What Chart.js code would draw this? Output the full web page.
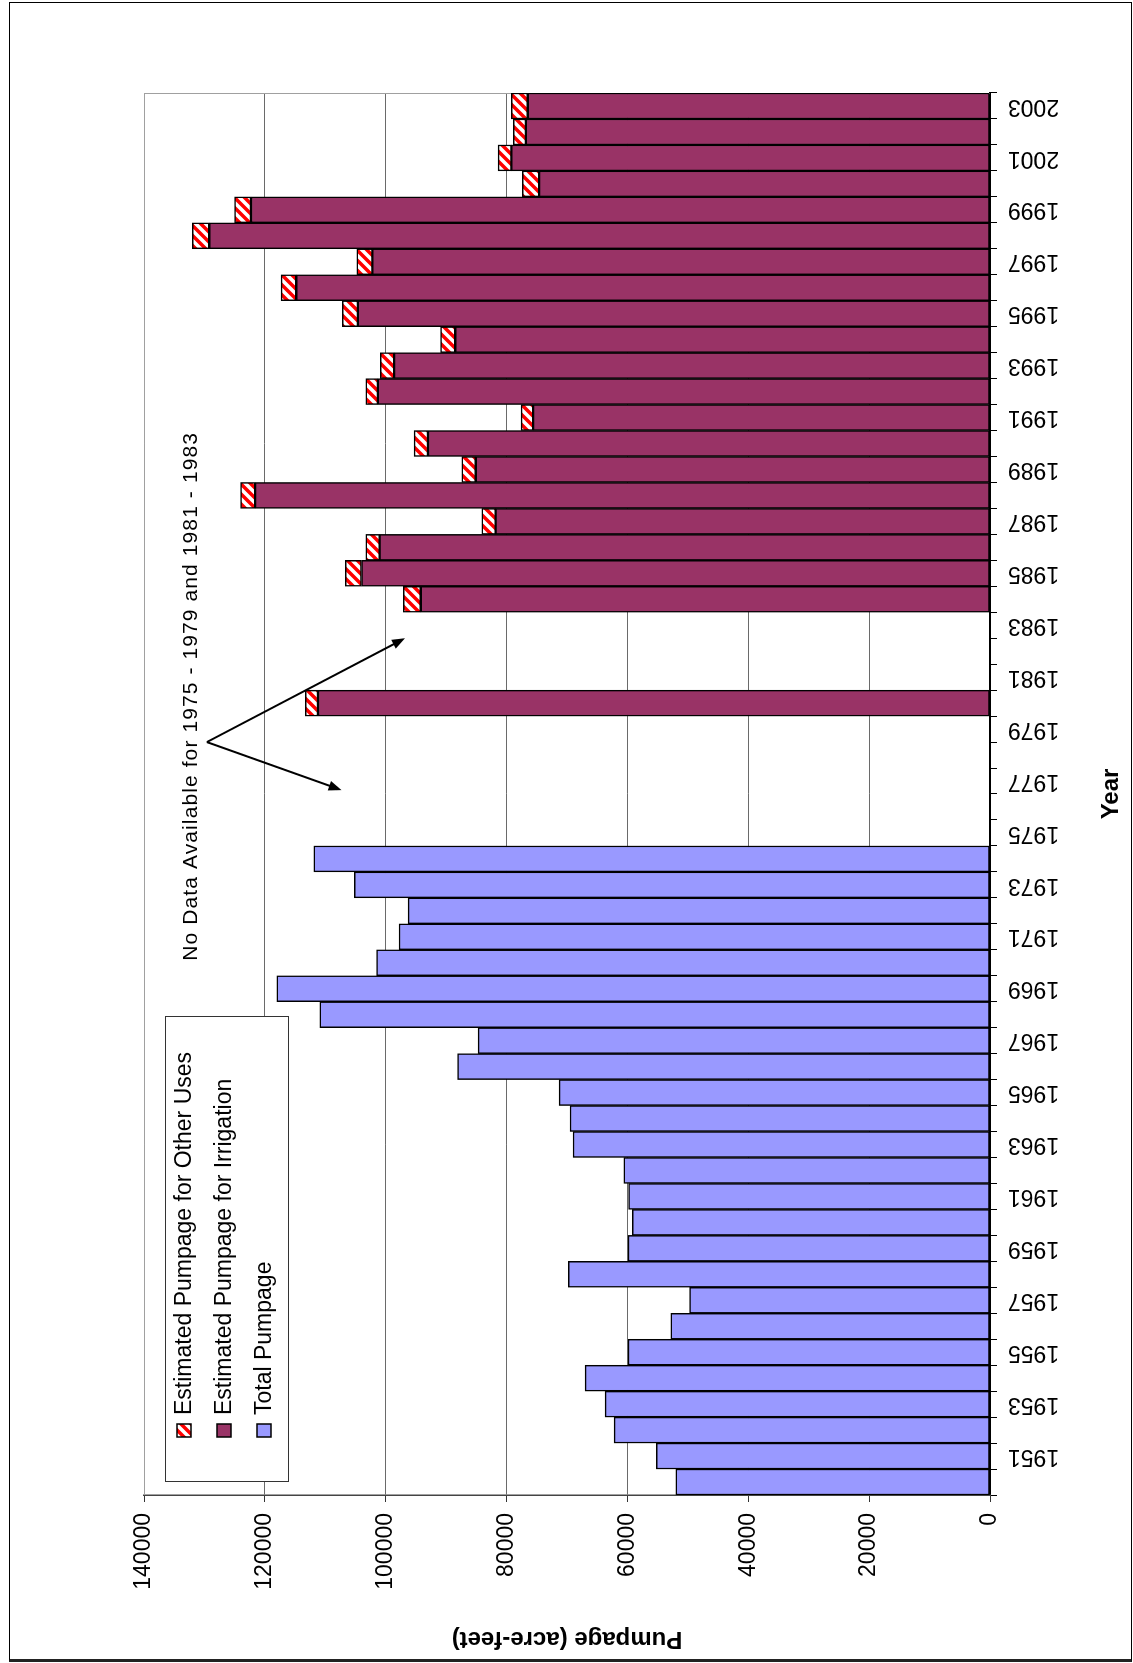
<!DOCTYPE html>
<html>
<head>
<meta charset="utf-8">
<title>Pumpage</title>
<script src="https://cdn.jsdelivr.net/npm/chart.js@4.4.1/dist/chart.umd.min.js"></script>
<style>
  html, body { margin: 0; padding: 0; width: 1133px; height: 1663px; overflow: hidden; background: #fff; }
  #frame { position: absolute; left: 9px; top: 2px; width: 1121px; height: 1656px; border: 1px solid #000; border-bottom: 3px solid #222; }
  #wrap { position: absolute; left: 0; top: 0; width: 1663px; height: 1133px; transform-origin: 0 0; transform: translateY(1663px) rotate(-90deg); }
</style>
</head>
<body>
<div id="frame"></div>
<div id="wrap"><canvas id="pumpage" width="1663" height="1133"></canvas></div>
<script>
// years on the category axis (every bar), labels shown on odd years only
const years = ['1950','1951','1952','1953','1954','1955','1956','1957','1958','1959',
  '1960','1961','1962','1963','1964','1965','1966','1967','1968','1969',
  '1970','1971','1972','1973','1974','1975','1976','1977','1978','1979',
  '1980','1981','1982','1983','1984','1985','1986','1987','1988','1989',
  '1990','1991','1992','1993','1994','1995','1996','1997','1998','1999',
  '2000','2001','2002','2003'];

// 1950 - 1974
const totalPumpage = [52000, 55200, 62200, 63700, 67000, 59900, 52800, 49700, 69800, 59900,
  59200, 59800, 60600, 69000, 69500, 71300, 88100, 84700, 110900, 118000,
  101500, 97800, 96300, 105200, 111900, null, null, null, null, null,
  null, null, null, null, null, null, null, null, null, null,
  null, null, null, null, null, null, null, null, null, null,
  null, null, null, null];

// 1980 and 1984 - 2003
const irrigation = [null, null, null, null, null, null, null, null, null, null,
  null, null, null, null, null, null, null, null, null, null,
  null, null, null, null, null, null, null, null, null, null,
  111200, null, null, null, 94200, 104000, 101000, 81800, 121600, 85100,
  93000, 75600, 101300, 98600, 88500, 104600, 114800, 102200, 129200, 122300,
  74600, 79200, 76800, 76500];

const otherUses = [null, null, null, null, null, null, null, null, null, null,
  null, null, null, null, null, null, null, null, null, null,
  null, null, null, null, null, null, null, null, null, null,
  2100, null, null, null, 2900, 2700, 2300, 2300, 2400, 2300,
  2300, 2000, 2000, 2300, 2400, 2600, 2500, 2600, 2800, 2700,
  2800, 2200, 2100, 2700];

const valueTicks = [0, 20000, 40000, 60000, 80000, 100000, 120000, 140000];

const seriesNames = ['Estimated Pumpage for Other Uses', 'Estimated Pumpage for Irrigation', 'Total Pumpage'];
const noteText = 'No Data Available for 1975 - 1979 and 1981 - 1983';

const FONT = "'Liberation Sans', Arial, sans-serif";

//red / white stripes
function makeHatch() {
    const c = document.createElement('canvas');
    c.width = 10; c.height = 10;
    const g = c.getContext('2d');
    g.fillStyle = '#fff';
    g.fillRect(0, 0, 10, 10);
    g.strokeStyle = '#ff0000';
    g.lineWidth = 3.5;
    g.beginPath();
    g.moveTo(-2, 12); g.lineTo(12, -2);
    g.moveTo(-3, 3); g.lineTo(3, -3);
    g.moveTo(7, 13); g.lineTo(13, 7);
    g.stroke();
    return g.createPattern(c, 'repeat');
}
const hatch = makeHatch();

function arrow(ctx, x0, y0, x1, y1) {
    const a = Math.atan2(y1 - y0, x1 - x0);
    ctx.beginPath();
    ctx.moveTo(x0, y0);
    ctx.lineTo(x1 - 8 * Math.cos(a), y1 - 8 * Math.sin(a));
    ctx.stroke();
    ctx.beginPath();
    ctx.moveTo(x1, y1);
    ctx.lineTo(x1 - 13 * Math.cos(a) + 5 * Math.sin(a), y1 - 13 * Math.sin(a) - 5 * Math.cos(a));
    ctx.lineTo(x1 - 13 * Math.cos(a) - 5 * Math.sin(a), y1 - 13 * Math.sin(a) + 5 * Math.cos(a));
    ctx.closePath();
    ctx.fill();
}

//plot border, legend box and the note with its arrows
const extras = {
    id: 'extras',
    beforeDatasetsDraw(chart) {
        const {ctx, chartArea: a} = chart;
        ctx.save();
        ctx.strokeStyle = '#a0a0a0';
        ctx.lineWidth = 1;
        ctx.beginPath();
        ctx.moveTo(a.left, a.top + 0.5);
        ctx.lineTo(a.right - 0.5, a.top + 0.5);
        ctx.lineTo(a.right - 0.5, a.bottom);
        ctx.stroke();
        ctx.restore();
    },
    afterDraw(chart) {
        const {ctx, chartArea: a} = chart;
        const x = chart.scales.x, y = chart.scales.y;
        ctx.save();

        // legend
        const lx = a.left + 13, ly = a.top + 21;
        ctx.fillStyle = '#fff';
        ctx.fillRect(lx, ly, 465, 123);
        ctx.strokeStyle = '#333';
        ctx.lineWidth = 1;
        ctx.strokeRect(lx + 0.5, ly + 0.5, 465, 123);
        const fills = [hatch, '#993366', '#9999FF'];
        ctx.font = '23px ' + FONT;
        ctx.textBaseline = 'middle';
        seriesNames.forEach(function(name, i) {
            const cy = ly + 19 + i * 40;
            ctx.fillStyle = fills[i];
            ctx.fillRect(lx + 45, cy - 7, 13, 14);
            ctx.strokeStyle = '#000';
            ctx.lineWidth = 1.5;
            ctx.strokeRect(lx + 45, cy - 7, 13, 14);
            ctx.fillStyle = '#000';
            ctx.fillText(name, lx + 67, cy + 1);
        });

        // note
        ctx.font = '21px ' + FONT;
        ctx.letterSpacing = '1.1px';
        ctx.textBaseline = 'alphabetic';
        ctx.fillStyle = '#000';
        ctx.fillText(noteText, x.getPixelForValue(20.08), y.getPixelForValue(131200));
        ctx.letterSpacing = '0px';

        const vx = x.getPixelForValue(28.5), vy = y.getPixelForValue(129600);
        ctx.strokeStyle = '#000';
        ctx.lineWidth = 2;
        arrow(ctx, vx, vy, x.getPixelForValue(32.5), y.getPixelForValue(96800));
        arrow(ctx, vx, vy, x.getPixelForValue(26.65), y.getPixelForValue(107300));
        ctx.restore();
    }
};

const barStyle = {
    borderColor: '#000',
    borderWidth: 1.5,
    borderSkipped: false,
    barPercentage: 1,
    categoryPercentage: 1
};

const pumpChart = new Chart(document.getElementById('pumpage'), {
    type: 'bar',
    data: {
        labels: years,
        datasets: [
            Object.assign({label: seriesNames[1], data: irrigation, backgroundColor: '#993366'}, barStyle),
            Object.assign({label: seriesNames[0], data: otherUses, backgroundColor: hatch}, barStyle),
            Object.assign({label: seriesNames[2], data: totalPumpage, backgroundColor: '#9999FF'}, barStyle)
        ]
    },
    options: {
        responsive: false,
        animation: false,
        devicePixelRatio: 1,
        layout: {padding: {left: 0, top: 144, right: 93, bottom: 0}},
        plugins: {
            legend: {display: false},
            tooltip: {enabled: false}
        },
        scales: {
            x: {
                stacked: true,
                afterFit: function(s) { s.height = 143; },
                grid: {offset: true, drawOnChartArea: false, tickLength: 7, tickColor: '#000'},
                border: {color: '#000', width: 2},
                ticks: {
                    autoSkip: false,
                    minRotation: 90,
                    maxRotation: 90,
                    padding: 11,
                    color: '#000',
                    font: {family: FONT, size: 23},
                    callback: function(v) {
                        const yr = this.getLabelForValue(v);
                        return Number(yr) % 2 === 1 ? yr : '';
                    }
                },
                title: {display: true, text: 'Year', color: '#000', font: {family: FONT, size: 24, weight: 'bold'}, padding: {top: 0, bottom: 7}}
            },
            y: {
                stacked: true,
                min: 0,
                max: 140000,
                afterFit: function(s) { s.width = 168; },
                afterBuildTicks: function(s) { s.ticks = valueTicks.map(function(v) { return {value: v}; }); },
                grid: {
                    color: function(c) { return c.tick && c.tick.value === 140000 ? '#a0a0a0' : '#6a6a6a'; },
                    lineWidth: 1,
                    tickLength: 7,
                    tickColor: '#333'
                },
                border: {color: '#444', width: 1.5},
                ticks: {
                    padding: 11,
                    color: '#000',
                    font: {family: FONT, size: 23},
                    callback: function(v) { return String(v); }
                },
                title: {display: true, text: 'Pumpage (acre-feet)', color: '#000', font: {family: FONT, size: 24, weight: 'bold'}, padding: {top: 10, bottom: 0}}
            }
        }
    },
    plugins: [extras]
});
</script>
</body>
</html>
